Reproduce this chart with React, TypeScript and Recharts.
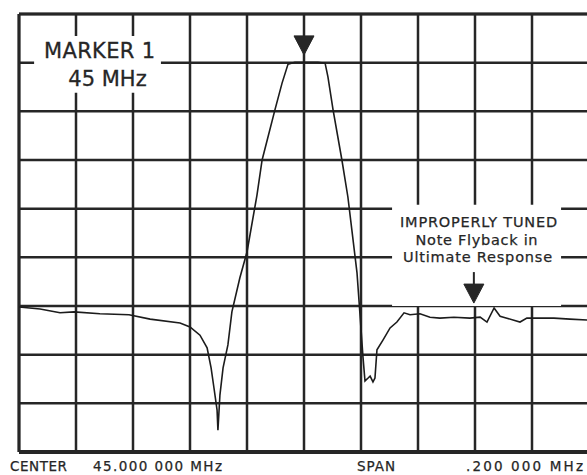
import { ComposedChart, Line, XAxis, YAxis, CartesianGrid, ReferenceArea, ReferenceDot, ReferenceLine } from 'recharts';

// offset from the 45 MHz centre (kHz) and displayed level (dB, top line = 0)
const freqKHz = [
  -100, -92.6, -85.6, -80.7, -71.6, -61.4, -54.0, -43.5, -40.0, -36.5, -34.0, -32.6, -31.6, -30.5, -30.2,
  -29.5, -28.4, -26.7, -25.3, -22.5, -20.0, -16.5, -14.7, -10.2, -7.7, -5.6, -3.2, 0.4, 4.9, 7.4,
  8.4, 10.2, 13.3, 15.4, 16.8, 18.6, 19.6, 20.7, 21.4, 22.5, 23.2, 24.2, 24.9, 25.6, 27.7,
  30.2, 32.6, 35.1, 37.2, 40.7, 44.2, 47.7, 52.6, 58.2, 61.8, 64.2, 66.7, 68.8, 71.2, 75.8,
  78.2, 87.7, 93.3, 100,
];
const levelDb = [
  -60.2, -60.6, -61.4, -61.2, -61.6, -61.8, -62.7, -63.5, -64.3, -66.0, -68.6, -72.7, -76.8, -81.4, -85.5,
  -78.3, -72.7, -68.0, -61.2, -54.2, -48.9, -37.2, -30.0, -19.7, -14.2, -10.3, -9.9, -9.9, -9.9, -10.1,
  -12.9, -19.7, -30.0, -37.6, -44.4, -53.2, -61.4, -70.5, -75.4, -74.8, -74.4, -75.6, -74.8, -69.0, -67.0,
  -64.5, -63.3, -61.4, -61.8, -61.6, -62.3, -62.5, -62.3, -62.5, -62.3, -63.3, -60.4, -62.1, -62.5, -63.3,
  -62.5, -62.5, -62.7, -62.9,
];
const freqTicks = [-100, -80, -60, -40, -20, 0, 20, 40, 60, 80, 100];
const levelTicks = [-90, -80, -70, -60, -50, -40, -30, -20, -10, 0];

const markerText = ['MARKER 1', '45 MHz'];
const noteText = ['IMPROPERLY TUNED', 'Note Flyback in', 'Ultimate Response'];
const centerText = ['CENTER', '45.000 000 MHz'];
const spanText = ['SPAN', '.200 000 MHz'];

const data = freqKHz.map((f, i) => ({ f, db: levelDb[i] }));

const INK = '#262626';
const FONT = '"DejaVu Sans", sans-serif';

const MarkerLabel = ({ viewBox }: any) => {
  const { x, y, width } = viewBox;
  const cx = x + width / 2;
  return (
    <g fill={INK} stroke={INK} strokeWidth={0.3} fontFamily={FONT} fontSize={21}>
      <text x={cx + 2} y={y + 22} textAnchor="middle" textLength={111} lengthAdjust="spacing">{markerText[0]}</text>
      <text x={cx + 10} y={y + 50} textAnchor="middle">{markerText[1]}</text>
    </g>
  );
};

const NoteLabel = ({ viewBox }: any) => {
  const { x, y, width } = viewBox;
  const cx = x + width / 2;
  return (
    <g fill={INK} stroke={INK} strokeWidth={0.25} fontFamily={FONT} fontSize={14.5}>
      <text x={cx + 2} y={y + 22} textAnchor="middle" textLength={157} lengthAdjust="spacing">{noteText[0]}</text>
      <text x={cx} y={y + 40} textAnchor="middle" textLength={122} lengthAdjust="spacing">{noteText[1]}</text>
      <text x={cx + 1} y={y + 57} textAnchor="middle" textLength={149} lengthAdjust="spacing">{noteText[2]}</text>
    </g>
  );
};

const DownArrow = ({ cx, cy, stem }: any) => (
  <g fill={INK} stroke={INK}>
    {stem > 0 && <line x1={cx} x2={cx} y1={cy - 18 - stem} y2={cy - 18} strokeWidth={2} />}
    <polygon points={`${cx - 10},${cy - 19} ${cx + 10},${cy - 19} ${cx},${cy}`} strokeWidth={1} />
  </g>
);

export default function App() {
  return (
    <div style={{ position: 'absolute', left: 0, top: 0, width: 587, height: 475, overflow: 'hidden', background: '#fff' }}>
      <ComposedChart width={600} height={475} data={data} margin={{ top: 14, right: 11, bottom: 23, left: 19 }}>
        <XAxis dataKey="f" type="number" domain={[-100, 100]} ticks={freqTicks} hide allowDataOverflow />
        <YAxis type="number" domain={[-90, 0]} ticks={levelTicks} hide allowDataOverflow />
        <CartesianGrid stroke={INK} strokeWidth={2.5} />
        <ReferenceLine y={0} stroke={INK} strokeWidth={3} />
        <ReferenceLine y={-90} stroke={INK} strokeWidth={4} />
        <ReferenceLine x={-100} stroke={INK} strokeWidth={3} />
        <ReferenceArea x1={-94.7} x2={-50.2} y1={-16.2} y2={-4.5} fill="#fff" fillOpacity={1} stroke="none" label={MarkerLabel} />
        <ReferenceArea x1={30.9} x2={90.2} y1={-60} y2={-39.2} fill="#fff" fillOpacity={1} stroke="none" label={NoteLabel} />
        <Line dataKey="db" type="linear" stroke="#1c1c1c" strokeWidth={1.6} dot={false} isAnimationActive={false} />
        <ReferenceDot x={0} y={-8.4} r={0} shape={(p: any) => <DownArrow {...p} stem={0} />} />
        <ReferenceDot x={59.6} y={-59.4} r={0} shape={(p: any) => <DownArrow {...p} stem={13} />} />
      </ComposedChart>
      <svg width={587} height={475} style={{ position: 'absolute', left: 0, top: 0, pointerEvents: 'none' }}>
        <g fill={INK} stroke={INK} strokeWidth={0.25} fontFamily={FONT} fontSize={13.5}>
          <text x={10} y={471} textLength={57} lengthAdjust="spacing">{centerText[0]}</text>
          <text x={93} y={471} textLength={129} lengthAdjust="spacing">{centerText[1]}</text>
          <text x={357} y={471} textLength={38} lengthAdjust="spacing">{spanText[0]}</text>
          <text x={466} y={471} textLength={117} lengthAdjust="spacing">{spanText[1]}</text>
        </g>
      </svg>
    </div>
  );
}
